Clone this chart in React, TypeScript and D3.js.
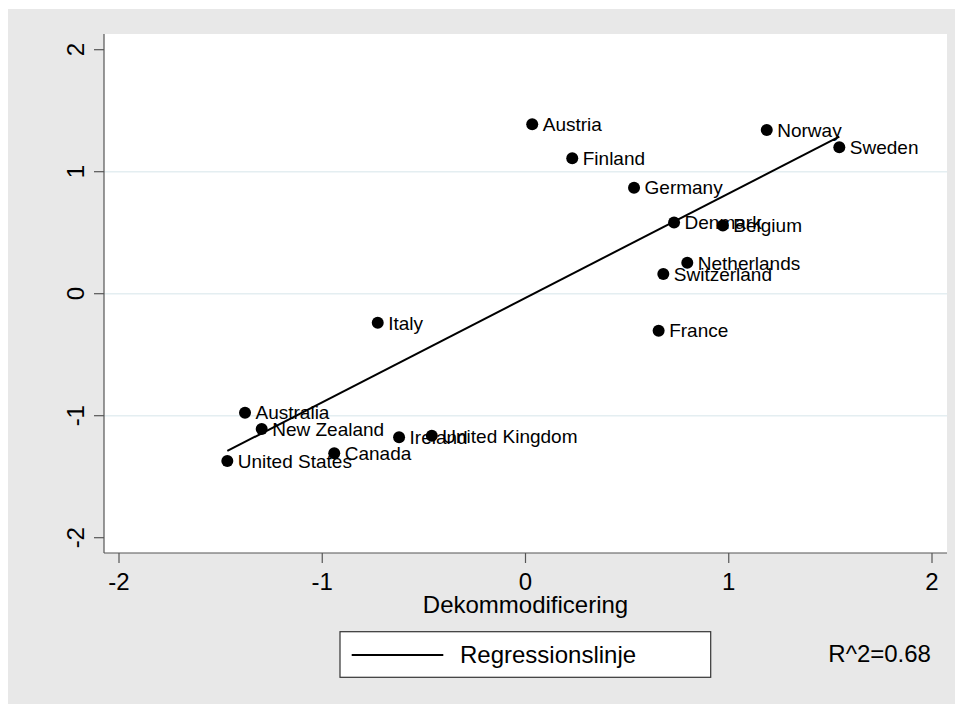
import React from "react";
import * as d3 from "d3";

const countries = ["Austria","Finland","Germany","Denmark","Belgium","Norway","Sweden","Netherlands","Switzerland","France","Italy","Australia","New Zealand","United States","Canada","Ireland","United Kingdom"];
const xValues = [0.033,0.230,0.534,0.731,0.971,1.187,1.544,0.796,0.678,0.655,-0.727,-1.380,-1.298,-1.467,-0.941,-0.622,-0.461];
const yValues = [1.389,1.110,0.869,0.584,0.559,1.342,1.200,0.254,0.161,-0.303,-0.238,-0.975,-1.109,-1.371,-1.308,-1.177,-1.164];
const regX = [-1.467, 1.544];
const regY = [-1.289, 1.287];
const xTicks = [-2, -1, 0, 1, 2];
const yTicks = [-2, -1, 0, 1, 2];
const gridTicks = [-1, 0, 1];
const xTitle = "Dekommodificering";
const legendLabel = "Regressionslinje";
const r2Label = "R^2=0.68";

const FONT = "'Liberation Sans', Arial, Helvetica, sans-serif";

export default function App() {
  const W = 963, H = 704;
  const plotL = 104, plotR = 947, plotT = 34, plotB = 553;
  const x = d3.scaleLinear().domain([-2, 2]).range([119, 932]);
  const y = d3.scaleLinear().domain([-2, 2]).range([537.7, 49.7]);
  const line = d3.line<[number, number]>().x(d => x(d[0])).y(d => y(d[1]));
  const regPts: [number, number][] = regX.map((v, i) => [v, regY[i]]);
  const axisColor = "#555";

  return (
    <svg width={955} height={696} style={{ display: "block" }} fontFamily={FONT}>
      <g transform="translate(-8,-8)">
        <rect x={8} y={9} width={W - 8} height={H - 9} fill="#e8e8e8" />
        <rect x={plotL} y={plotT} width={plotR - plotL} height={plotB - plotT} fill="#ffffff" />
        {gridTicks.map(t => (
          <line key={"g" + t} x1={plotL} x2={plotR} y1={y(t)} y2={y(t)} stroke="#e4eef1" strokeWidth={1.5} />
        ))}
        {/* axes */}
        <line x1={plotL} x2={plotL} y1={plotT} y2={plotB} stroke={axisColor} strokeWidth={1.2} />
        <line x1={plotL} x2={plotR} y1={plotB} y2={plotB} stroke={axisColor} strokeWidth={1.2} />
        {yTicks.map(t => (
          <g key={"yt" + t}>
            <line x1={plotL - 10} x2={plotL} y1={y(t)} y2={y(t)} stroke={axisColor} strokeWidth={1.2} />
            <text transform={`translate(83.5,${y(t)}) rotate(-90)`} textAnchor="middle" fontSize={24} fill="#000">{t}</text>
          </g>
        ))}
        {xTicks.map(t => (
          <g key={"xt" + t}>
            <line x1={x(t)} x2={x(t)} y1={plotB} y2={plotB + 10} stroke={axisColor} strokeWidth={1.2} />
            <text x={x(t)} y={590} textAnchor="middle" fontSize={24} fill="#000">{t}</text>
          </g>
        ))}
        <text x={(plotL + plotR) / 2} y={613} textAnchor="middle" fontSize={24} fill="#000">{xTitle}</text>

        {/* regression line */}
        <path d={line(regPts) || ""} fill="none" stroke="#000" strokeWidth={2} />

        {/* points */}
        {countries.map((c, i) => (
          <g key={c}>
            <circle cx={x(xValues[i])} cy={y(yValues[i])} r={6} fill="#000" />
            <text x={x(xValues[i]) + 10.5} y={y(yValues[i]) + 6.8} fontSize={19} fill="#000">{c}</text>
          </g>
        ))}

        {/* legend */}
        <rect x={340} y={631.7} width={370.7} height={45.6} fill="#fff" stroke="#333" strokeWidth={1.2} />
        <line x1={351.7} x2={443.3} y1={655} y2={655} stroke="#000" strokeWidth={2} />
        <text x={460} y={662.7} fontSize={24} fill="#000">{legendLabel}</text>

        <text x={828.3} y={661.7} fontSize={24} fill="#000">{r2Label}</text>
      </g>
    </svg>
  );
}
